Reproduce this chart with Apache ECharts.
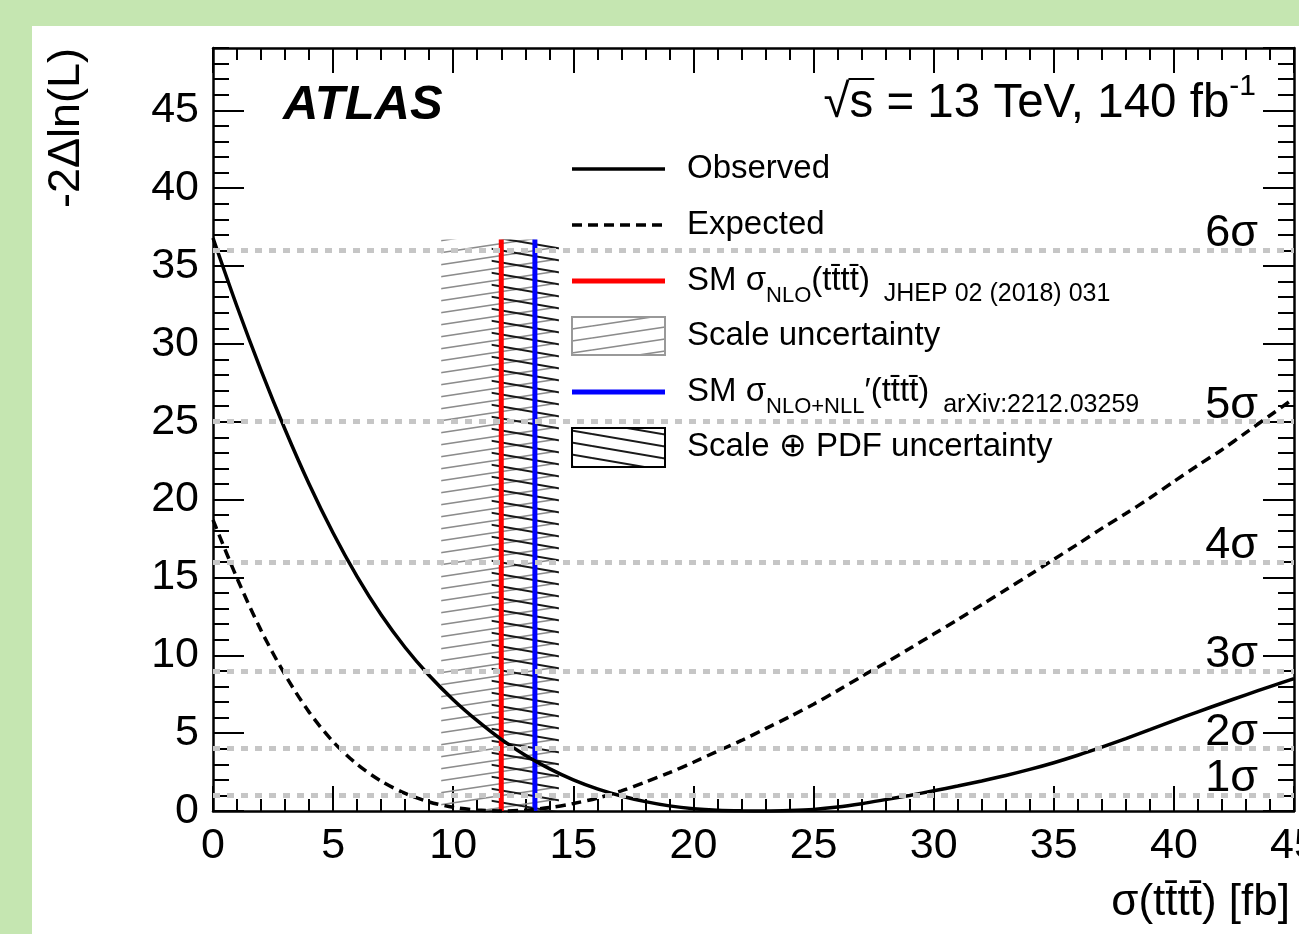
<!DOCTYPE html>
<html>
<head>
<meta charset="utf-8">
<title>tttt likelihood scan</title>
<script src="https://cdn.jsdelivr.net/npm/echarts@6/dist/echarts.min.js"></script>
<style>
  body { margin: 0; background: #c5e6b1; }
  #main { position: absolute; left: 32px; top: 26px; width: 1267px; height: 908px; background: #fff; }
</style>
</head>
<body>
<div id="main"></div>
<script>
const FONT = "'Liberation Sans', Arial, Helvetica, sans-serif";

// cross section scan points [fb]
const xValues = [0, 1, 2, 3, 4, 5, 6, 7, 8, 9, 10, 11, 12, 13, 14, 15, 16, 17, 18, 19, 20, 21, 22,
  23, 24, 25, 26, 27, 28, 29, 30, 31, 32, 33, 34, 35, 36, 37, 38, 39, 40, 41, 42, 43, 44, 45];
// -2 delta ln(L), observed
const observed = [36.8, 32.4, 28.3, 24.5, 21.0, 17.85, 15.05, 12.6, 10.5, 8.7, 7.15, 5.8, 4.6, 3.58, 2.72, 2.0,
  1.42, 0.96, 0.6, 0.33, 0.15, 0.05, 0.01, 0, 0.03, 0.1, 0.25, 0.47, 0.73, 1.0, 1.3, 1.6, 1.93, 2.28, 2.67,
  3.1, 3.58, 4.1, 4.65, 5.22, 5.8, 6.37, 6.92, 7.46, 7.99, 8.5];
// -2 delta ln(L), expected
const expected = [18.7, 14.95, 11.6, 8.75, 6.35, 4.45, 3.0, 1.92, 1.13, 0.58, 0.24, 0.06, 0, 0.055, 0.22, 0.48,
  0.83, 1.29, 1.86, 2.46, 3.13, 3.84, 4.53, 5.29, 6.05, 6.86, 7.73, 8.64, 9.52, 10.43, 11.36, 12.29, 13.25,
  14.21, 15.17, 16.16, 17.14, 18.15, 19.1, 20.1, 21.16, 22.2, 23.2, 24.3, 25.4, 26.5];

const sigmaLevels = [1, 4, 9, 16, 25, 36];
const sigmaLabels = ['1σ', '2σ', '3σ', '4σ', '5σ', '6σ'];

const smNlo = 12.0;          // JHEP 02 (2018) 031
const smNll = 13.4;          // arXiv:2212.03259
const scaleBand = [9.5, 14.2];
const pdfBand = [11.6, 14.4];
const bandTop = 36.7;

// hatch patterns (ROOT style fill)
function hatch(color, w, h, rising, lw) {
  const c = document.createElement('canvas');
  c.width = w; c.height = h;
  const g = c.getContext('2d');
  g.strokeStyle = color;
  g.lineWidth = lw;
  for (const k of [-1, 0, 1]) {
    g.beginPath();
    if (rising) { g.moveTo(0, h + k * h); g.lineTo(w, k * h); }
    else { g.moveTo(0, k * h); g.lineTo(w, h + k * h); }
    g.stroke();
  }
  return c;
}
const grayHatch = { image: hatch('#8c8c8c', 80, 12, true, 1.6), repeat: 'repeat' };
const blackHatch = { image: hatch('#1a1a1a', 70, 12, false, 2), repeat: 'repeat' };

const mctx = document.createElement('canvas').getContext('2d');
function textW(str, font) { mctx.font = font; return mctx.measureText(str).width; }

const pts = arr => xValues.map((x, i) => [x, arr[i]]);

const axisLine = { show: true, onZero: false, lineStyle: { color: '#000', width: 2.5 } };
const tickStyle = { color: '#000', width: 2 };
const noSplit = { show: false };

function xAx(pos, labels) {
  return {
    type: 'value', position: pos, offset: 0, min: 0, max: 45, interval: 5,
    axisLine: axisLine,
    axisTick: { inside: true, length: 25, lineStyle: tickStyle },
    minorTick: { show: true, splitNumber: 5, length: 12, lineStyle: tickStyle },
    axisLabel: labels ? { color: '#000', fontSize: 43, fontFamily: FONT, margin: 14 } : { show: false },
    splitLine: noSplit, minorSplitLine: noSplit
  };
}
function yAx(pos, step, len, labels) {
  return {
    type: 'value', position: pos, offset: 0, min: 0, max: 49, interval: step,
    axisLine: step === 5 ? axisLine : { show: false, onZero: false },
    axisTick: { inside: true, length: len, lineStyle: tickStyle },
    axisLabel: labels ? {
      color: '#000', fontSize: 43, fontFamily: FONT, margin: 14, showMaxLabel: false,
      formatter: v => (v % 5 === 0 ? String(v) : '')
    } : { show: false },
    splitLine: noSplit
  };
}

// energy / lumi label with overline on s
const eFont = '47.5px ' + FONT;
const eMain = '√s = 13 TeV, 140 fb';
const eRight = 1224;
const eStart = eRight - textW(eMain, eFont) - textW('-1', '30px ' + FONT);
const sX0 = eStart + textW('√', eFont);
const sX1 = sX0 + textW('s', eFont);

const legendRich = {
  m: { fontSize: 33, fontFamily: FONT, lineHeight: 33, fill: '#000' },
  s: { fontSize: 22, fontFamily: FONT, lineHeight: 22, padding: [30, 0, 0, 0], fill: '#000' },
  r: { fontSize: 25, fontFamily: FONT, lineHeight: 25, padding: [26, 0, 0, 0], fill: '#000' }
};
const tttt = 'tt\u0304tt\u0304';
const legendTexts = [
  '{m|Observed}',
  '{m|Expected}',
  '{m|SM σ}{s|NLO}{m|(' + tttt + ')}{r|  JHEP 02 (2018) 031}',
  '{m|Scale uncertainty}',
  '{m|SM σ}{s|NLO+NLL}{m|′(' + tttt + ')}{r|  arXiv:2212.03259}',
  '{m|Scale ⊕ PDF uncertainty}'
];
const legendY = [143, 199, 255, 310, 366, 421];

const graphic = [
  { type: 'text', x: 251, y: 79, style: { text: 'ATLAS', fontSize: 49, fontWeight: 'bold', fontStyle: 'italic',
      fontFamily: FONT, fill: '#000', align: 'left', verticalAlign: 'middle' } },
  { type: 'text', x: eRight, y: 78, style: {
      text: '{m|' + eMain + '}{sup|-1}', align: 'right', verticalAlign: 'middle',
      rich: {
        m: { fontSize: 47.5, fontFamily: FONT, lineHeight: 47, fill: '#000' },
        sup: { fontSize: 30, fontFamily: FONT, lineHeight: 30, padding: [0, 0, 34, 0], fill: '#000' }
      } } },
  { type: 'line', shape: { x1: sX0 - 1, y1: 53, x2: sX1 + 1, y2: 53 }, style: { stroke: '#000', lineWidth: 2 } },
  { type: 'text', x: 35, y: 22, rotation: Math.PI / 2, style: { text: '-2Δln(L)', fontSize: 45, fontFamily: FONT,
      fill: '#000', align: 'right', verticalAlign: 'middle' } },
  { type: 'text', x: 1258, y: 877, style: { text: 'σ(' + tttt + ') [fb]', fontSize: 44, fontFamily: FONT,
      fill: '#000', align: 'right', verticalAlign: 'middle' } },
  // legend samples
  { type: 'line', shape: { x1: 540, y1: legendY[0], x2: 633, y2: legendY[0] }, style: { stroke: '#000', lineWidth: 3.5 } },
  { type: 'line', shape: { x1: 540, y1: legendY[1], x2: 633, y2: legendY[1] }, style: { stroke: '#000', lineWidth: 3.5, lineDash: [10, 6] } },
  { type: 'line', shape: { x1: 540, y1: legendY[2], x2: 633, y2: legendY[2] }, style: { stroke: '#ff0000', lineWidth: 5 } },
  { type: 'rect', shape: { x: 540, y: 291, width: 93, height: 38 }, style: { fill: grayHatch, stroke: '#999', lineWidth: 2 } },
  { type: 'line', shape: { x1: 540, y1: legendY[4], x2: 633, y2: legendY[4] }, style: { stroke: '#0000ff', lineWidth: 5 } },
  { type: 'rect', shape: { x: 540, y: 402, width: 93, height: 39 }, style: { fill: blackHatch, stroke: '#000', lineWidth: 2 } }
];
legendTexts.forEach((t, i) => {
  graphic.push({ type: 'text', x: 655, y: legendY[i], style: { text: t, rich: legendRich, align: 'left', verticalAlign: 'middle' } });
});

const chart = echarts.init(document.getElementById('main'));
chart.setOption({
  animation: false,
  backgroundColor: 'transparent',
  grid: { left: 181, top: 22, right: 5, bottom: 123, containLabel: false, outerBoundsMode: 'none' },
  xAxis: [xAx('bottom', true), xAx('top', false)],
  yAxis: [yAx('left', 5, 31, true), yAx('left', 1, 16, false), yAx('right', 5, 31, false), yAx('right', 1, 16, false)],
  graphic: graphic,
  series: [
    {
      name: 'SM NLO', type: 'line', z: 2, symbol: 'none', silent: true,
      data: [[smNlo, 0], [smNlo, bandTop]],
      lineStyle: { color: '#ff0000', width: 5 },
      markArea: {
        silent: true,
        data: [
          [{ xAxis: scaleBand[0], yAxis: 0, itemStyle: { color: grayHatch, opacity: 1 } }, { xAxis: scaleBand[1], yAxis: bandTop }],
          [{ xAxis: pdfBand[0], yAxis: 0, itemStyle: { color: blackHatch, opacity: 1 } }, { xAxis: pdfBand[1], yAxis: bandTop }]
        ]
      }
    },
    {
      name: 'SM NLO+NLL', type: 'line', z: 2, symbol: 'none', silent: true,
      data: [[smNll, 0], [smNll, bandTop]],
      lineStyle: { color: '#0000ff', width: 5 }
    },
    {
      name: 'Observed', type: 'line', z: 3, symbol: 'none', smooth: 0.3, silent: true,
      data: pts(observed),
      lineStyle: { color: '#000', width: 3.5 },
      markLine: {
        silent: true, symbol: ['none', 'none'],
        lineStyle: { color: '#c6c6c6', width: 5, type: [7, 7] },
        label: { show: true, position: 'insideEndTop', formatter: '{b}', color: '#000', fontSize: 45,
          fontFamily: FONT, distance: [36, -6] },
        data: sigmaLevels.map((v, i) => ({ yAxis: v, name: sigmaLabels[i] }))
      }
    },
    {
      name: 'Expected', type: 'line', z: 3, symbol: 'none', smooth: 0.3, silent: true,
      data: pts(expected),
      lineStyle: { color: '#000', width: 3.5, type: [10, 6] }
    }
  ]
});
</script>
</body>
</html>
